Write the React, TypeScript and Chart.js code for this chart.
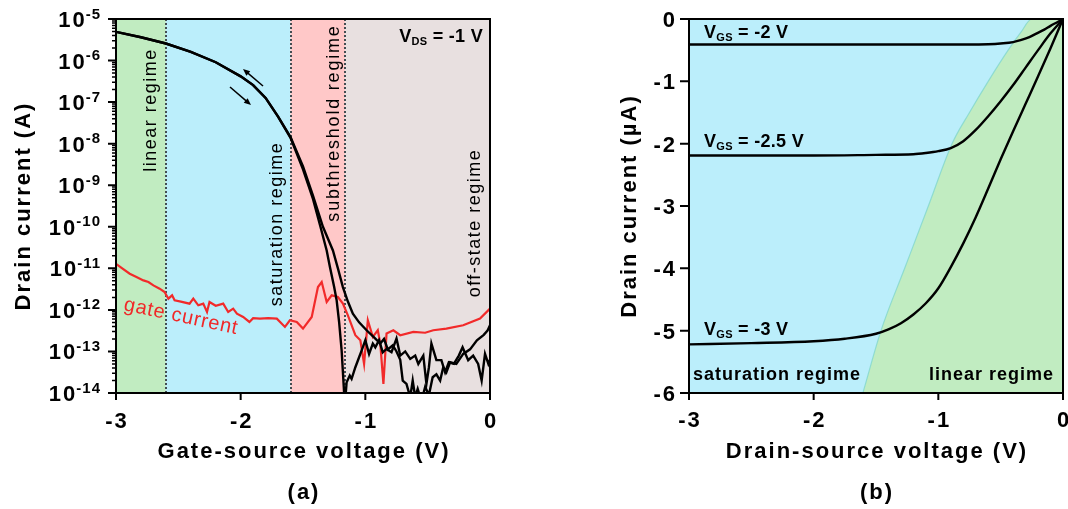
import React, { useEffect, useRef } from 'react';
import { Chart, registerables } from 'chart.js';

Chart.register(...registerables);

const FONT = "'Liberation Sans', Arial, Helvetica, sans-serif";

// ---------------- Panel (a): transfer characteristics (V_DS = -1 V) ----------------
const regionEdgesA = [-3, -2.6, -1.6, -1.16, 0];
const regionColorsA = ['#c1ecc1', '#bbeefb', '#ffc8c8', '#e8e0e0'];
const regionNamesA = ['linear regime', 'saturation regime', 'subthreshold regime', 'off-state regime'];
const regionDividersA = [-2.6, -1.6, -1.16];
const xTicksA = [-3, -2, -1, 0];
const yDecadesA = [-14, -13, -12, -11, -10, -9, -8, -7, -6, -5];
const minorMultipliers = [2, 3, 4, 5, 6, 7, 8, 9];

// [V_GS (V), log10(I_D / A)]
const drainSweepDownLog: [number, number][] = [
  [-3.0, -5.31], [-2.8, -5.44], [-2.6, -5.59], [-2.4, -5.79], [-2.2, -6.04], [-2.0, -6.38],
  [-1.9, -6.59], [-1.8, -6.9], [-1.7, -7.35], [-1.6, -7.86], [-1.5, -8.62], [-1.42, -9.33],
  [-1.36, -10.0], [-1.31, -10.57], [-1.284, -10.97], [-1.25, -11.45], [-1.23, -11.77], [-1.21, -12.3],
  [-1.19, -12.98], [-1.172, -13.9], [-1.165, -14.3], [-1.15, -13.74], [-1.125, -13.58], [-1.11, -13.66],
  [-1.08, -13.38], [-1.05, -13.14], [-1.03, -12.98], [-1.0, -12.73], [-0.97, -13.06], [-0.94, -12.81],
  [-0.92, -12.9], [-0.89, -12.73], [-0.86, -13.02], [-0.83, -12.94], [-0.79, -13.02], [-0.75, -12.69],
  [-0.72, -13.1], [-0.68, -13.0], [-0.64, -13.18], [-0.6, -13.1], [-0.575, -13.3], [-0.535, -13.1],
  [-0.51, -13.78], [-0.49, -13.38], [-0.47, -12.81], [-0.43, -13.21], [-0.39, -13.21], [-0.36, -13.5],
  [-0.33, -13.26], [-0.29, -13.3], [-0.25, -13.1], [-0.22, -12.9], [-0.175, -13.21], [-0.135, -13.1],
  [-0.095, -13.3], [-0.067, -13.7], [-0.04, -13.06], [-0.013, -13.3], [0, -13.2],
];

const drainSweepUpLog: [number, number][] = [
  [-3.0, -5.31], [-2.8, -5.44], [-2.6, -5.59], [-2.4, -5.79], [-2.2, -6.04], [-2.0, -6.38],
  [-1.9, -6.59], [-1.8, -6.9], [-1.7, -7.35], [-1.6, -7.84], [-1.5, -8.55], [-1.42, -9.25],
  [-1.34, -10.0], [-1.26, -10.57], [-1.22, -11.0], [-1.18, -11.45], [-1.14, -11.8], [-1.1, -12.09],
  [-1.05, -12.3], [-0.99, -12.49], [-0.93, -12.66], [-0.88, -12.81], [-0.85, -12.7], [-0.82, -12.95],
  [-0.78, -12.85], [-0.75, -13.0], [-0.72, -13.2], [-0.7, -13.7], [-0.67, -13.78], [-0.64, -14.1],
  [-0.62, -13.7], [-0.6, -14.1], [-0.58, -13.9], [-0.55, -14.2], [-0.52, -13.85], [-0.49, -14.05],
  [-0.46, -13.62], [-0.43, -13.55], [-0.4, -13.7], [-0.375, -13.38], [-0.35, -13.5], [-0.32, -13.26],
  [-0.27, -13.3], [-0.215, -13.06], [-0.16, -12.95], [-0.105, -12.73], [-0.05, -12.6], [-0.02, -12.5],
  [0, -12.37],
];

const gateCurrentLog: [number, number][] = [
  [-3.0, -10.89], [-2.95, -11.0], [-2.89, -11.13], [-2.84, -11.2], [-2.78, -11.29], [-2.74, -11.33],
  [-2.7, -11.41], [-2.65, -11.49], [-2.61, -11.57], [-2.58, -11.73], [-2.55, -11.65], [-2.53, -11.77],
  [-2.48, -11.8], [-2.41, -11.85], [-2.38, -11.73], [-2.34, -11.89], [-2.3, -11.85], [-2.27, -12.05],
  [-2.25, -11.81], [-2.2, -11.9], [-2.14, -11.85], [-2.1, -12.05], [-2.06, -11.97], [-2.03, -12.09],
  [-1.98, -12.17], [-1.93, -12.29], [-1.9, -12.2], [-1.845, -12.21], [-1.78, -12.2], [-1.71, -12.21],
  [-1.645, -12.41], [-1.605, -12.25], [-1.55, -12.29], [-1.5, -12.45], [-1.43, -12.17], [-1.38, -11.45],
  [-1.35, -11.33], [-1.31, -11.81], [-1.27, -11.65], [-1.22, -11.69], [-1.18, -11.85], [-1.14, -12.13],
  [-1.08, -12.61], [-1.04, -12.73], [-1.01, -13.3], [-0.98, -12.25], [-0.94, -12.65], [-0.9, -12.49],
  [-0.88, -12.81], [-0.855, -13.78], [-0.83, -12.57], [-0.775, -12.49], [-0.72, -12.61], [-0.615, -12.53],
  [-0.52, -12.55], [-0.455, -12.49], [-0.35, -12.45], [-0.215, -12.37], [-0.08, -12.21], [0, -11.97],
];

// ---------------- Panel (b): output characteristics ----------------
const xTicksB = [-3, -2, -1, 0];
const yTicksB = [-6, -5, -4, -3, -2, -1, 0];

// [V_DS (V), I_D (µA)]
const outputVgs2: [number, number][] = [
  [-3, -0.41], [-2, -0.41], [-1, -0.41], [-0.6, -0.405], [-0.48, -0.39], [-0.4, -0.37],
  [-0.34, -0.34], [-0.27, -0.29], [-0.21, -0.23], [-0.15, -0.17], [-0.1, -0.11], [-0.05, -0.055], [0, 0],
];
const outputVgs25: [number, number][] = [
  [-3, -2.19], [-2, -2.19], [-1.5, -2.18], [-1.2, -2.17], [-1.1, -2.15], [-1.0, -2.12],
  [-0.9, -2.07], [-0.8, -1.96], [-0.7, -1.78], [-0.6, -1.56], [-0.5, -1.32], [-0.4, -1.06],
  [-0.3, -0.78], [-0.2, -0.5], [-0.1, -0.23], [0, 0],
];
const outputVgs3: [number, number][] = [
  [-3, -5.22], [-2.5, -5.2], [-2, -5.17], [-1.75, -5.13], [-1.5, -5.05], [-1.4, -4.98],
  [-1.3, -4.88], [-1.2, -4.74], [-1.1, -4.56], [-1.0, -4.32], [-0.9, -3.98], [-0.8, -3.6],
  [-0.7, -3.18], [-0.6, -2.72], [-0.5, -2.25], [-0.4, -1.8], [-0.3, -1.36], [-0.2, -0.92],
  [-0.1, -0.47], [0, 0],
];
const saturationBoundary: [number, number][] = [
  [-1.605, -6], [-1.46, -5], [-1.27, -4], [-1.08, -3], [-0.89, -2], [-0.75, -1.5],
  [-0.6, -1], [-0.44, -0.5], [-0.34, -0.22], [-0.25, 0], [0, 0],
];
const curveLabelsB = [
  { sub: 'GS', rest: ' = -2 V' },
  { sub: 'GS', rest: ' = -2.5 V' },
  { sub: 'GS', rest: ' = -3 V' },
];
const regionNamesB = ['saturation regime', 'linear regime'];
const colorSaturation = '#bbeefb';
const colorLinear = '#c1ecc1';

// ---------------- helpers ----------------
function drawText(
  ctx: CanvasRenderingContext2D, text: string, x: number, y: number, font: string,
  opts: { align?: CanvasTextAlign; baseline?: CanvasTextBaseline; color?: string; spacing?: number; rotate?: number } = {}
) {
  ctx.save();
  ctx.font = font;
  ctx.fillStyle = opts.color || '#000';
  ctx.textAlign = opts.align || 'left';
  ctx.textBaseline = opts.baseline || 'alphabetic';
  (ctx as any).letterSpacing = (opts.spacing ?? 0) + 'px';
  ctx.translate(x, y);
  if (opts.rotate) ctx.rotate(opts.rotate);
  ctx.fillText(text, 0, 0);
  ctx.restore();
}

function drawSubLabel(
  ctx: CanvasRenderingContext2D, main: string, sub: string, rest: string,
  x: number, y: number, size: number, subSize: number, align: 'left' | 'right'
) {
  ctx.save();
  ctx.fillStyle = '#000';
  ctx.textAlign = 'left';
  ctx.textBaseline = 'alphabetic';
  (ctx as any).letterSpacing = '0.3px';
  const big = `bold ${size}px ${FONT}`;
  const small = `bold ${subSize}px ${FONT}`;
  ctx.font = big;
  const w1 = ctx.measureText(main).width;
  const w3 = ctx.measureText(rest).width;
  ctx.font = small;
  const w2 = ctx.measureText(sub).width;
  let cx = align === 'left' ? x : x - (w1 + w2 + w3);
  ctx.font = big;
  ctx.fillText(main, cx, y);
  cx += w1;
  ctx.font = small;
  ctx.fillText(sub, cx, y + 3);
  cx += w2;
  ctx.font = big;
  ctx.fillText(rest, cx, y);
  ctx.restore();
}

function drawArrow(ctx: CanvasRenderingContext2D, x1: number, y1: number, x2: number, y2: number) {
  const ang = Math.atan2(y2 - y1, x2 - x1);
  const hl = 7, hw = 3;
  ctx.save();
  ctx.strokeStyle = '#000';
  ctx.fillStyle = '#000';
  ctx.lineWidth = 1.5;
  ctx.beginPath();
  ctx.moveTo(x1, y1);
  ctx.lineTo(x2 - Math.cos(ang) * hl * 0.8, y2 - Math.sin(ang) * hl * 0.8);
  ctx.stroke();
  ctx.beginPath();
  ctx.moveTo(x2, y2);
  ctx.lineTo(x2 - Math.cos(ang) * hl - Math.sin(ang) * hw, y2 - Math.sin(ang) * hl + Math.cos(ang) * hw);
  ctx.lineTo(x2 - Math.cos(ang) * hl + Math.sin(ang) * hw, y2 - Math.sin(ang) * hl - Math.cos(ang) * hw);
  ctx.closePath();
  ctx.fill();
  ctx.restore();
}

const logPoints = (arr: [number, number][]) => arr.map(([v, l]) => ({ x: v, y: Math.pow(10, l) }));
const linPoints = (arr: [number, number][]) => arr.map(([v, i]) => ({ x: v, y: i }));

const TICK_FONT = `bold 22px ${FONT}`;
const TITLE_FONT = `bold 22px ${FONT}`;

// ---------------- chart configs ----------------
function makeConfigA(): any {
  const plugin = {
    id: 'panelA',
    beforeDatasetsDraw(chart: any) {
      const { ctx, chartArea: ca, scales: { x } } = chart;
      ctx.save();
      for (let i = 0; i < regionColorsA.length; i++) {
        const x1 = x.getPixelForValue(regionEdgesA[i]);
        const x2 = x.getPixelForValue(regionEdgesA[i + 1]);
        ctx.fillStyle = regionColorsA[i];
        ctx.fillRect(x1, ca.top, x2 - x1, ca.bottom - ca.top);
      }
      ctx.strokeStyle = '#434d52';
      ctx.lineWidth = 2;
      ctx.setLineDash([2, 2]);
      for (const v of regionDividersA) {
        const px = Math.round(x.getPixelForValue(v));
        ctx.beginPath();
        ctx.moveTo(px, ca.top);
        ctx.lineTo(px, ca.bottom);
        ctx.stroke();
      }
      ctx.restore();
      const f = `18px ${FONT}`;
      const rot = -Math.PI / 2;
      drawText(ctx, regionNamesA[0], 156, 110, f, { align: 'center', spacing: 1.5, rotate: rot });
      drawText(ctx, regionNamesA[1], 282, 224, f, { align: 'center', spacing: 1.5, rotate: rot });
      drawText(ctx, regionNamesA[2], 339, 123, f, { align: 'center', spacing: 1.8, rotate: rot });
      drawText(ctx, regionNamesA[3], 480, 223, f, { align: 'center', spacing: 1.5, rotate: rot });
    },
    afterDatasetsDraw(chart: any) {
      const { ctx, chartArea: ca } = chart;
      drawSubLabel(ctx, 'V', 'DS', ' = -1 V', ca.right - 7, ca.top + 23, 18, 11, 'right');
      drawText(ctx, 'gate current', 123, 310, `20px ${FONT}`, { color: '#f02828', spacing: 0.8, rotate: 0.21 });
      drawArrow(ctx, 263, 86, 243, 69);
      drawArrow(ctx, 230, 87, 251, 105);
    },
    afterDraw(chart: any) {
      const { ctx, chartArea: ca, scales: { x, y } } = chart;
      ctx.save();
      ctx.strokeStyle = '#000';
      ctx.lineWidth = 2;
      ctx.setLineDash([]);
      ctx.strokeRect(ca.left, ca.top, ca.right - ca.left, ca.bottom - ca.top);
      ctx.beginPath();
      for (const v of xTicksA) {
        const px = x.getPixelForValue(v);
        ctx.moveTo(px, ca.bottom);
        ctx.lineTo(px, ca.bottom + 7);
      }
      for (const e of yDecadesA) {
        const py = y.getPixelForValue(Math.pow(10, e));
        ctx.moveTo(ca.left, py);
        ctx.lineTo(ca.left - 8, py);
      }
      ctx.stroke();
      ctx.lineWidth = 1.5;
      ctx.beginPath();
      for (const e of yDecadesA.slice(0, -1)) {
        for (const m of minorMultipliers) {
          const py = y.getPixelForValue(m * Math.pow(10, e));
          ctx.moveTo(ca.left, py);
          ctx.lineTo(ca.left - 4, py);
        }
      }
      ctx.stroke();
      ctx.restore();

      for (const v of xTicksA) {
        drawText(ctx, String(v), x.getPixelForValue(v) + 1, ca.bottom + 35, TICK_FONT, { align: 'center', spacing: 2 });
      }
      for (const e of yDecadesA) {
        const py = y.getPixelForValue(Math.pow(10, e));
        ctx.save();
        ctx.font = `bold 15px ${FONT}`;
        (ctx as any).letterSpacing = '1px';
        const supW = ctx.measureText(String(e)).width;
        ctx.restore();
        const right = ca.left - 15;
        drawText(ctx, String(e), right, py - 0.5, `bold 15px ${FONT}`, { align: 'right', spacing: 1 });
        drawText(ctx, '10', right - supW + 1, py + 8, TICK_FONT, { align: 'right', spacing: 2 });
      }
      drawText(ctx, 'Gate-source voltage (V)', (ca.left + ca.right) / 2 + 1, ca.bottom + 65, TITLE_FONT, { align: 'center', spacing: 2 });
      drawText(ctx, 'Drain current (A)', 30, (ca.top + ca.bottom) / 2, TITLE_FONT, { align: 'center', spacing: 2, rotate: -Math.PI / 2 });
      drawText(ctx, '(a)', (ca.left + ca.right) / 2 + 1, ca.bottom + 106, TITLE_FONT, { align: 'center', spacing: 2 });
    },
  };

  return {
    type: 'line',
    data: {
      datasets: [
        { label: 'drain (down)', data: logPoints(drainSweepDownLog), borderColor: '#000', borderWidth: 2.4, pointRadius: 0, tension: 0, fill: false },
        { label: 'drain (up)', data: logPoints(drainSweepUpLog), borderColor: '#000', borderWidth: 2.4, pointRadius: 0, tension: 0, fill: false },
        { label: 'gate current', data: logPoints(gateCurrentLog), borderColor: '#f22a2a', borderWidth: 2.2, pointRadius: 0, tension: 0, fill: false },
      ],
    },
    options: {
      animation: false,
      responsive: false,
      devicePixelRatio: 1,
      events: [],
      layout: { padding: { left: 0, right: 44, top: 19, bottom: 0 } },
      plugins: { legend: { display: false }, tooltip: { enabled: false } },
      scales: {
        x: {
          type: 'linear', min: -3, max: 0,
          ticks: { display: false }, grid: { display: false }, border: { display: false },
          afterFit: (s: any) => { s.height = 116; },
        },
        y: {
          type: 'logarithmic', min: 1e-14, max: 1e-5,
          ticks: { display: false }, grid: { display: false }, border: { display: false },
          afterFit: (s: any) => { s.width = 116; },
        },
      },
    },
    plugins: [plugin],
  };
}

function makeConfigB(): any {
  const plugin = {
    id: 'panelB',
    beforeDatasetsDraw(chart: any) {
      const { ctx, chartArea: ca } = chart;
      ctx.save();
      ctx.fillStyle = colorSaturation;
      ctx.fillRect(ca.left, ca.top, ca.right - ca.left, ca.bottom - ca.top);
      ctx.restore();
    },
    afterDatasetsDraw(chart: any) {
      const { ctx, chartArea: ca } = chart;
      const lx = ca.left + 15;
      drawSubLabel(ctx, 'V', curveLabelsB[0].sub, curveLabelsB[0].rest, lx, 38, 18, 11, 'left');
      drawSubLabel(ctx, 'V', curveLabelsB[1].sub, curveLabelsB[1].rest, lx, 147, 18, 11, 'left');
      drawSubLabel(ctx, 'V', curveLabelsB[2].sub, curveLabelsB[2].rest, lx, 335, 18, 11, 'left');
      drawText(ctx, regionNamesB[0], ca.left + 4, 380, `bold 18px ${FONT}`, { spacing: 1 });
      drawText(ctx, regionNamesB[1], ca.right - 9, 380, `bold 18px ${FONT}`, { align: 'right', spacing: 1 });
    },
    afterDraw(chart: any) {
      const { ctx, chartArea: ca, scales: { x, y } } = chart;
      ctx.save();
      ctx.strokeStyle = '#000';
      ctx.lineWidth = 2;
      ctx.strokeRect(ca.left, ca.top, ca.right - ca.left, ca.bottom - ca.top);
      ctx.beginPath();
      for (const v of xTicksB) {
        const px = x.getPixelForValue(v);
        ctx.moveTo(px, ca.bottom);
        ctx.lineTo(px, ca.bottom + 7);
      }
      for (const v of yTicksB) {
        const py = y.getPixelForValue(v);
        ctx.moveTo(ca.left, py);
        ctx.lineTo(ca.left - 9, py);
      }
      ctx.stroke();
      ctx.restore();
      for (const v of xTicksB) {
        drawText(ctx, String(v), x.getPixelForValue(v) + 1, ca.bottom + 34, TICK_FONT, { align: 'center', spacing: 2 });
      }
      for (const v of yTicksB) {
        drawText(ctx, String(v), ca.left - 12, y.getPixelForValue(v) + 8, TICK_FONT, { align: 'right', spacing: 2 });
      }
      drawText(ctx, 'Drain-source voltage (V)', (ca.left + ca.right) / 2 + 1, ca.bottom + 65, TITLE_FONT, { align: 'center', spacing: 2 });
      drawText(ctx, 'Drain current (µA)', ca.left - 53, (ca.top + ca.bottom) / 2, TITLE_FONT, { align: 'center', spacing: 2, rotate: -Math.PI / 2 });
      drawText(ctx, '(b)', (ca.left + ca.right) / 2 + 1, ca.bottom + 106, TITLE_FONT, { align: 'center', spacing: 2 });
    },
  };

  const curve = (arr: [number, number][], label: string) => ({
    label, data: linPoints(arr), borderColor: '#000', borderWidth: 2.4, pointRadius: 0,
    cubicInterpolationMode: 'monotone', fill: false,
  });

  return {
    type: 'line',
    data: {
      datasets: [
        curve(outputVgs2, 'VGS = -2 V'),
        curve(outputVgs25, 'VGS = -2.5 V'),
        curve(outputVgs3, 'VGS = -3 V'),
        {
          label: 'linear regime', data: linPoints(saturationBoundary), borderColor: 'rgba(130,215,205,0.8)',
          borderWidth: 1.2, pointRadius: 0, cubicInterpolationMode: 'monotone',
          backgroundColor: colorLinear, fill: 'start',
        },
      ],
    },
    options: {
      animation: false,
      responsive: false,
      devicePixelRatio: 1,
      events: [],
      layout: { padding: { left: 0, right: 5, top: 19, bottom: 0 } },
      plugins: { legend: { display: false }, tooltip: { enabled: false } },
      scales: {
        x: {
          type: 'linear', min: -3, max: 0,
          ticks: { display: false }, grid: { display: false }, border: { display: false },
          afterFit: (s: any) => { s.height = 116; },
        },
        y: {
          type: 'linear', min: -6, max: 0,
          ticks: { display: false }, grid: { display: false }, border: { display: false },
          afterFit: (s: any) => { s.width = 155; },
        },
      },
    },
    plugins: [plugin],
  };
}

function ChartCanvas({ makeConfig, left }: { makeConfig: () => any; left: number }) {
  const ref = useRef<HTMLCanvasElement>(null);
  useEffect(() => {
    const chart = new Chart(ref.current as HTMLCanvasElement, makeConfig());
    return () => chart.destroy();
  }, []);
  return (
    <canvas
      ref={ref}
      width={534}
      height={509}
      style={{ position: 'absolute', left, top: 0, width: 534, height: 509 }}
    />
  );
}

export default function App() {
  return (
    <div style={{ position: 'absolute', left: 0, top: 0, width: 1068, height: 509, background: '#fff', overflow: 'hidden' }}>
      <ChartCanvas makeConfig={makeConfigA} left={0} />
      <ChartCanvas makeConfig={makeConfigB} left={534} />
    </div>
  );
}
